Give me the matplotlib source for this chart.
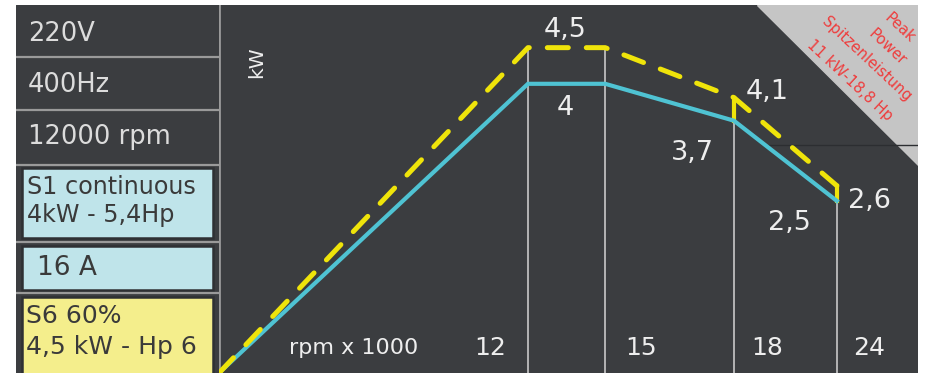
import matplotlib.pyplot as plt
from matplotlib.patches import Rectangle, Polygon

# rpm x 1000 at the break points
rpm = [0, 12, 15, 20, 24]
# S1 continuous power (kW) as drawn
s1_kw = [0, 4.0, 4.0, 3.49, 2.38]
# S6 60% power (kW) as drawn
s6_kw = [0, 4.5, 4.5, 3.81, 2.59]

value_labels = ["4,5", "4", "3,7", "4,1", "2,5", "2,6"]
value_pos = [(13.45, 4.75), (13.45, 3.66), (18.4, 3.04), (21.3, 3.88), (22.15, 2.07), (25.25, 2.38)]

rpm_ticks = ["12", "15", "18", "24"]
rpm_tick_x = [10.55, 16.4, 21.3, 25.25]

spec_rows = ["220V", "400Hz", "12000 rpm"]
s1_text = ["S1 continuous", "4kW - 5,4Hp"]
current_text = "16 A"
s6_text = ["S6 60%", "4,5 kW - Hp 6"]
peak_text = ["Peak", "Power", "Spitzenleistung", "11 kW-18,8 Hp"]

BG = "#3b3d40"
SEP = "#9a9a9a"
CYAN = "#4fc3d3"
YELLOW = "#efe40a"

W, H = 926, 373
fig = plt.figure(figsize=(W / 100, H / 100), dpi=100)
fig.patch.set_facecolor("white")

# ---- left info panel (pixel coordinates, y downwards) ----
lp = fig.add_axes([16 / W, 0, 203 / W, 368 / H])
lp.set_xlim(16, 219)
lp.set_ylim(373, 5)
lp.axis("off")
lp.add_patch(Rectangle((16, 5), 203, 368, color=BG))
for y in [57, 110, 165, 242, 293]:
    lp.plot([16, 219], [y, y], color=SEP, lw=1.6, solid_capstyle="butt")
for y, t in zip([34, 85, 137], spec_rows):
    lp.text(28, y, t, color="#dcdcdc", fontsize=18.5, va="center", ha="left")

box_txt = "#3a3a3a"
lp.add_patch(Rectangle((22, 168), 191, 70, facecolor="#bfe4ea", edgecolor="#2e3033", lw=1.8))
lp.add_patch(Rectangle((22, 246), 191, 44, facecolor="#bfe4ea", edgecolor="#2e3033", lw=1.8))
lp.add_patch(Rectangle((22, 297), 191, 80, facecolor="#f4ee8c", edgecolor="#2e3033", lw=1.8))
lp.text(27, 187, s1_text[0], color=box_txt, fontsize=17.2, va="center")
lp.text(27, 215, s1_text[1], color=box_txt, fontsize=17.2, va="center")
lp.text(37, 268, current_text, color=box_txt, fontsize=19, va="center")
lp.text(26, 316, s6_text[0], color=box_txt, fontsize=18, va="center")
lp.text(26, 347, s6_text[1], color=box_txt, fontsize=18, va="center")

# ---- chart ----
ax = fig.add_axes([219 / W, 0, 699 / W, 368 / H])
ax.set_facecolor(BG)
ax.set_xlim(0, 27.15)
ax.set_ylim(0, 5.09)
for s in ax.spines.values():
    s.set_visible(False)
ax.set_xticks([])
ax.set_yticks([])
ax.axvline(0, color=SEP, lw=2)

# peak power corner
ax.add_patch(Polygon([(0.77, 1), (1, 1), (1, 0.565)], closed=True,
                     transform=ax.transAxes, color="#c5c5c5", zorder=1))
ax.axhline(3.15, xmin=0.784, xmax=1, color="#2c2e31", lw=1, zorder=1)
for (fx, fy), t in zip([(0.974, 0.9375), (0.956, 0.886), (0.926, 0.853), (0.903, 0.796)], peak_text):
    ax.text(fx, fy, t, transform=ax.transAxes, color="#ee3d3d", fontsize=10.8,
            rotation=-43, ha="center", va="center", rotation_mode="anchor", zorder=2)

# vertical guides
for i in range(1, len(rpm)):
    if s1_kw[i] == s1_kw[1]:
        ax.plot([rpm[i], rpm[i]], [0, s6_kw[i]], color="#c8c8c8", lw=1.2, zorder=2)
    else:
        ax.plot([rpm[i], rpm[i]], [0, s1_kw[i]], color="#c8c8c8", lw=1.2, zorder=2)
        ax.plot([rpm[i], rpm[i]], [s1_kw[i], s6_kw[i]], color=YELLOW, lw=3, zorder=3)

ax.plot(rpm, s1_kw, color=CYAN, lw=3, solid_joinstyle="miter", zorder=4)
ax.plot(rpm, s6_kw, color=YELLOW, lw=3.6, linestyle=(0, (4.2, 3.6)),
        dash_capstyle="round", zorder=4)

for (x, y), t in zip(value_pos, value_labels):
    ax.text(x, y, t, color="#eeeeee", fontsize=19.5, ha="center", va="center", zorder=5)

ax.text(1.45, 4.3, "kW", color="#eeeeee", fontsize=14.5, rotation=90, ha="center", va="center")
ax.text(5.24, 0.35, "rpm x 1000", color="#eeeeee", fontsize=16, ha="center", va="center")
for x, t in zip(rpm_tick_x, rpm_ticks):
    ax.text(x, 0.35, t, color="#eeeeee", fontsize=18, ha="center", va="center")

fig.savefig("out.png", dpi=100)
